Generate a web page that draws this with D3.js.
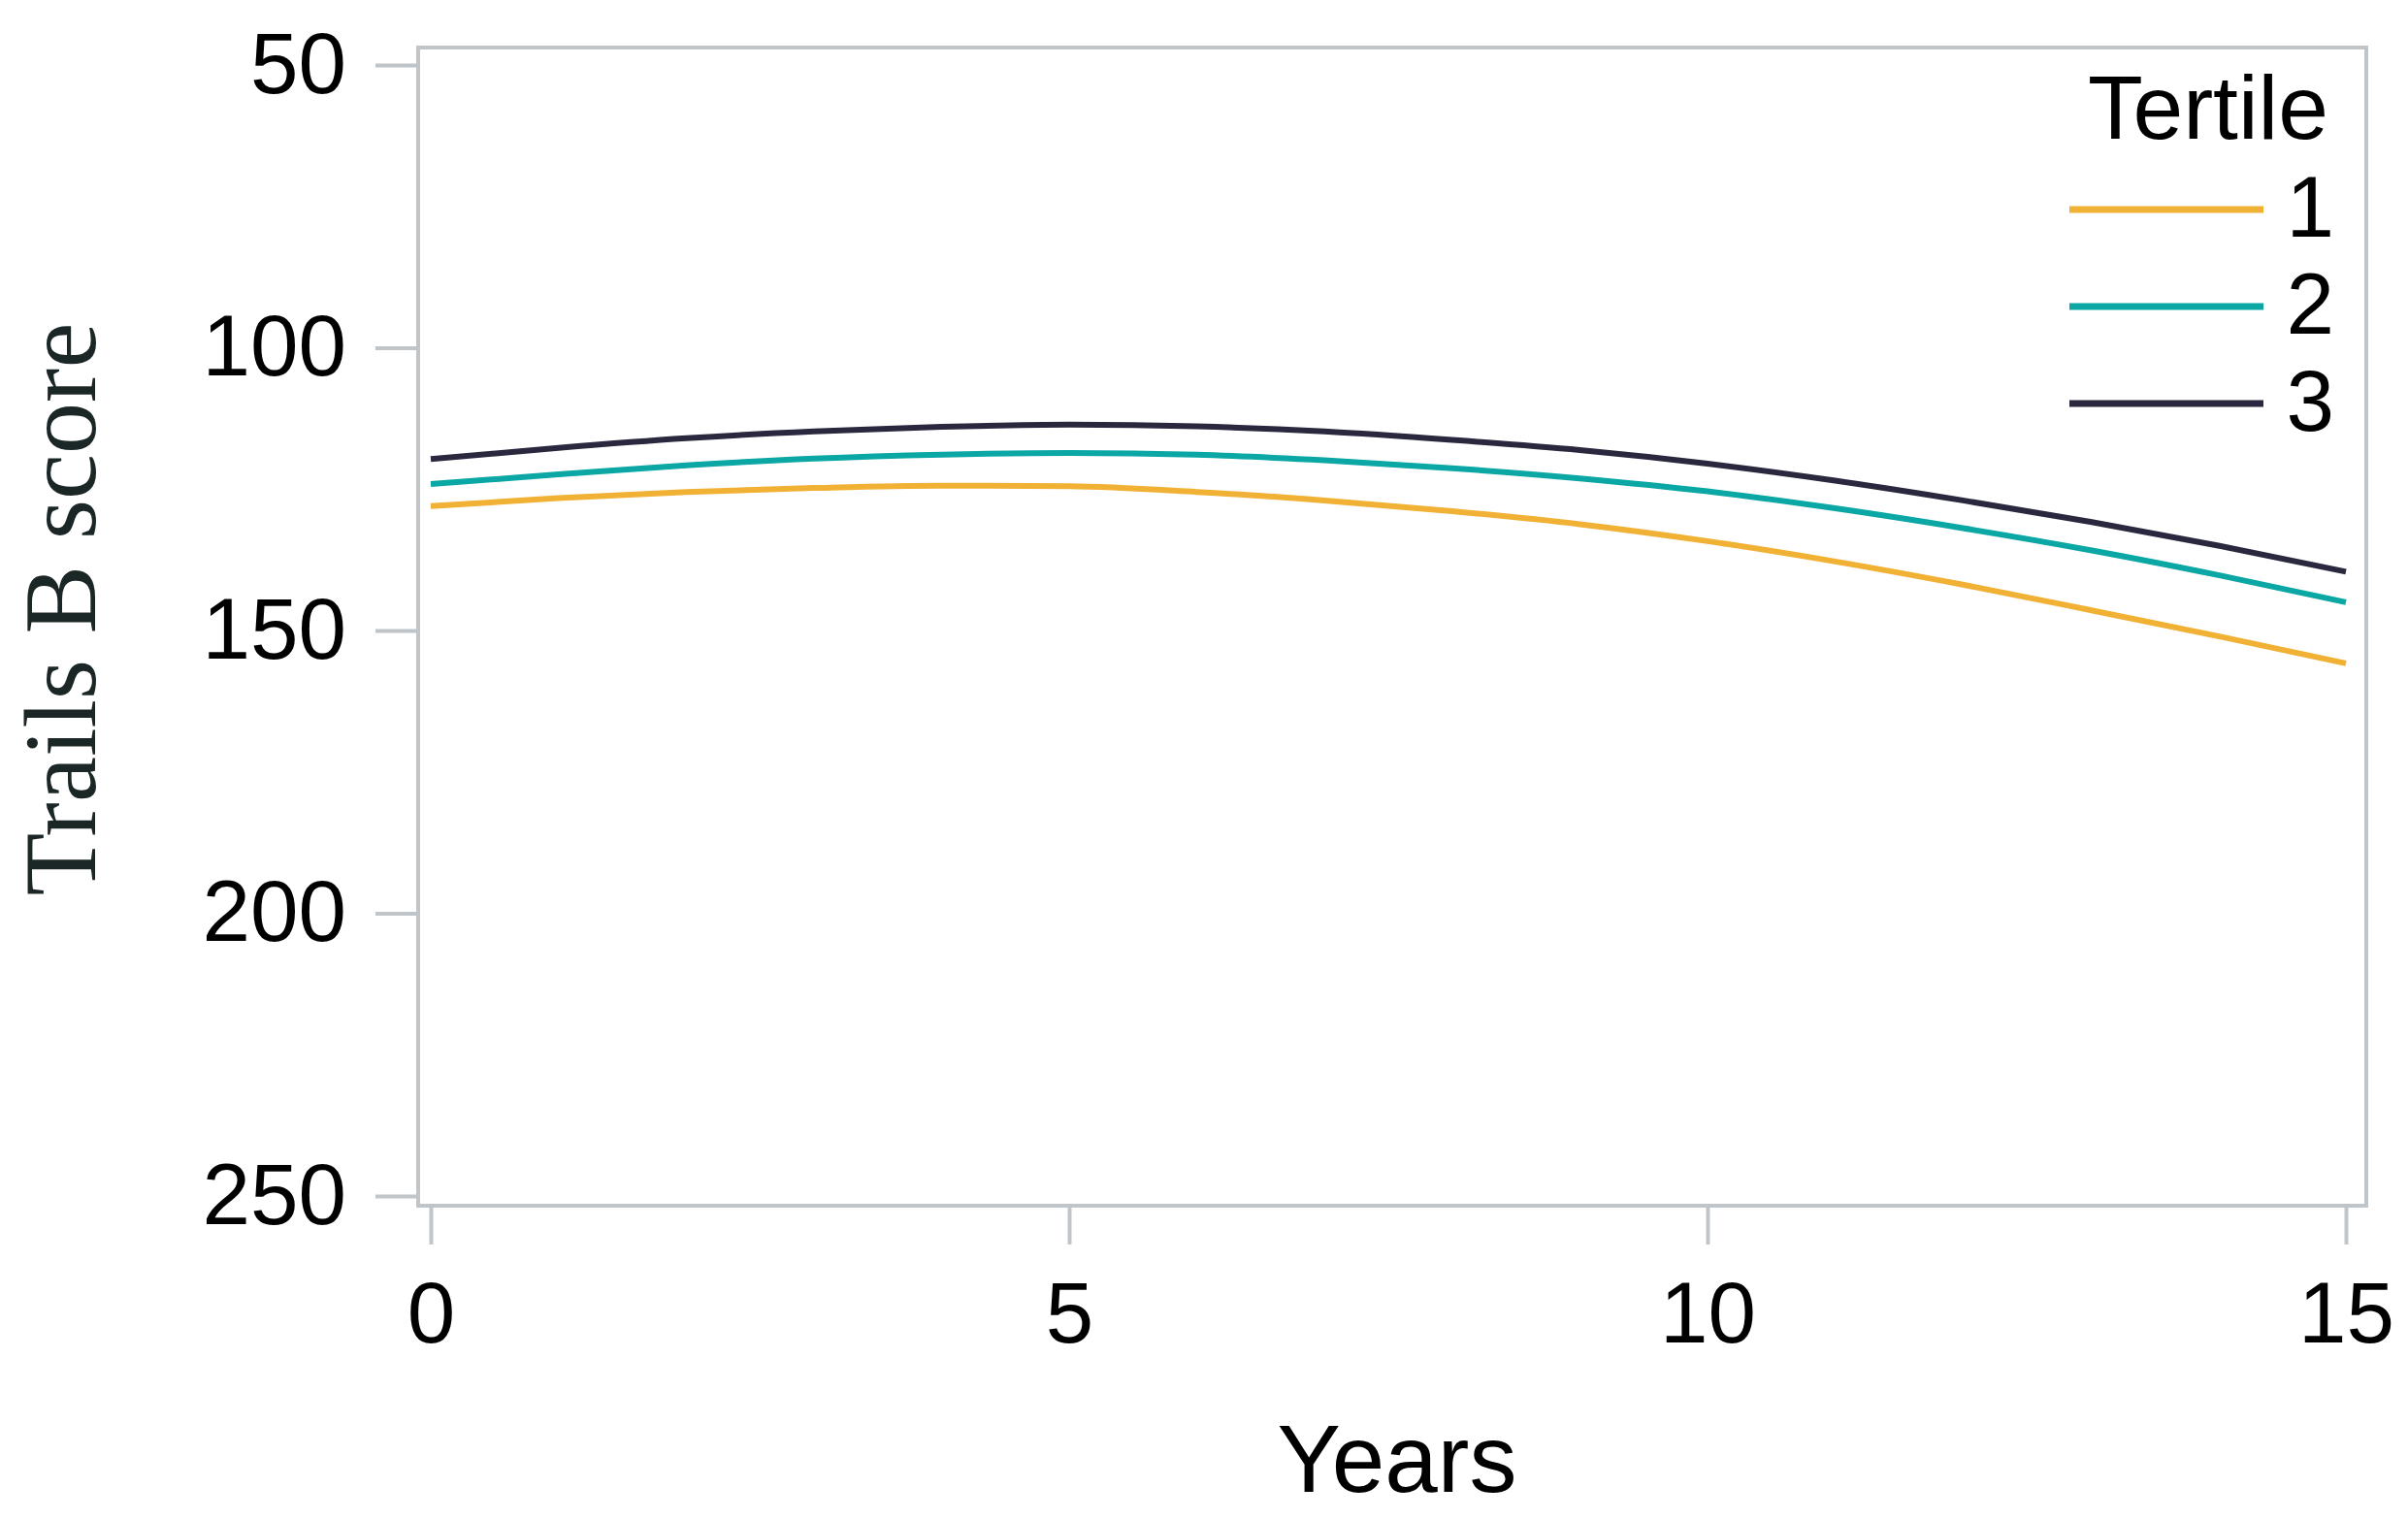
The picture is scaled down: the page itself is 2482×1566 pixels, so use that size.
<!DOCTYPE html>
<html>
<head>
<meta charset="utf-8">
<script src="https://cdn.jsdelivr.net/npm/d3@7"></script>
<style>
  body { margin: 0; background: #fff; }
</style>
</head>
<body>
<div id="chart"></div>
<script>
// data
const years = [0, 1, 2, 3, 4, 5, 6, 7, 8, 9, 10, 11, 12, 13, 14, 15];
const tertile1 = [128.0, 126.6, 125.5, 124.8, 124.4, 124.5, 125.5, 127.0, 128.9, 131.2, 134.2, 137.8, 141.9, 146.4, 151.0, 155.8];
const tertile2 = [124.1, 122.4, 120.8, 119.6, 118.9, 118.6, 118.9, 119.9, 121.3, 123.1, 125.4, 128.4, 131.9, 135.8, 140.2, 145.0];
const tertile3 = [119.7, 117.7, 116.0, 114.8, 114.0, 113.6, 113.9, 114.8, 116.3, 118.1, 120.5, 123.5, 127.0, 130.8, 135.0, 139.6];
const seriesNames = ["1", "2", "3"];
const seriesColors = ["#f1b135", "#0aa7a4", "#29283f"];
const xTicks = [0, 5, 10, 15];
const yTicks = [50, 100, 150, 200, 250];

const W = 2482, H = 1566;
const frame = { left: 431, top: 49, right: 2439, bottom: 1243 };
const axisGray = "#c0c5ca";
const sans = "'Liberation Sans', Arial, sans-serif";

const svg = d3.select("#chart")
  .append("svg")
  .attr("width", W)
  .attr("height", H);

// scales (y is reversed: 50 on top, 250 at bottom)
const x = d3.scaleLinear().domain([0, 15]).range([444, 2418]);
const y = d3.scaleLinear().domain([50, 250]).range([67, 1233]);

// plot frame
svg.append("rect")
  .attr("x", frame.left)
  .attr("y", frame.top)
  .attr("width", frame.right - frame.left)
  .attr("height", frame.bottom - frame.top)
  .attr("fill", "none")
  .attr("stroke", axisGray)
  .attr("stroke-width", 4);

// Y axis
const yAxis = svg.append("g")
  .attr("transform", `translate(${frame.left},0)`)
  .call(d3.axisLeft(y).tickValues(yTicks).tickSize(44).tickPadding(30));
yAxis.select(".domain").remove();
yAxis.selectAll(".tick line").attr("stroke", axisGray).attr("stroke-width", 4);
yAxis.selectAll(".tick text")
  .attr("fill", "#000")
  .style("font-family", sans)
  .style("font-size", "89px");

// X axis
const xAxis = svg.append("g")
  .attr("transform", `translate(0,${frame.bottom + 2})`)
  .call(d3.axisBottom(x).tickValues(xTicks).tickSize(38).tickPadding(38));
xAxis.select(".domain").remove();
xAxis.selectAll(".tick line").attr("stroke", axisGray).attr("stroke-width", 4);
xAxis.selectAll(".tick text")
  .attr("fill", "#000")
  .style("font-family", sans)
  .style("font-size", "89px");

// axis titles
svg.append("text")
  .attr("x", 1440)
  .attr("y", 1538)
  .attr("text-anchor", "middle")
  .style("font-family", sans)
  .style("font-size", "98px")
  .text("Years");

svg.append("text")
  .attr("transform", "translate(98,628) rotate(-90)")
  .attr("text-anchor", "middle")
  .attr("fill", "#1b2626")
  .style("font-family", "'Liberation Serif', 'Times New Roman', serif")
  .style("font-size", "106px")
  .text("Trails B score");

// curves
const line = d3.line()
  .x((d, i) => x(years[i]))
  .y(d => y(d))
  .curve(d3.curveMonotoneX);

const allSeries = [tertile1, tertile2, tertile3];
svg.append("g")
  .selectAll("path")
  .data(allSeries)
  .join("path")
  .attr("fill", "none")
  .attr("stroke", (d, i) => seriesColors[i])
  .attr("stroke-width", 6)
  .attr("d", line);

// legend
const legend = svg.append("g");
legend.append("text")
  .attr("x", 2400)
  .attr("y", 143)
  .attr("text-anchor", "end")
  .style("font-family", sans)
  .style("font-size", "93px")
  .text("Tertile");

const items = legend.selectAll("g.item")
  .data(seriesNames)
  .join("g")
  .attr("class", "item")
  .attr("transform", (d, i) => `translate(0,${216 + i * 100})`);
items.append("line")
  .attr("x1", 2133)
  .attr("x2", 2333)
  .attr("stroke", (d, i) => seriesColors[i])
  .attr("stroke-width", 7);
items.append("text")
  .attr("x", 2406)
  .attr("y", 28)
  .attr("text-anchor", "end")
  .style("font-family", sans)
  .style("font-size", "89px")
  .text(d => d);
</script>
</body>
</html>
